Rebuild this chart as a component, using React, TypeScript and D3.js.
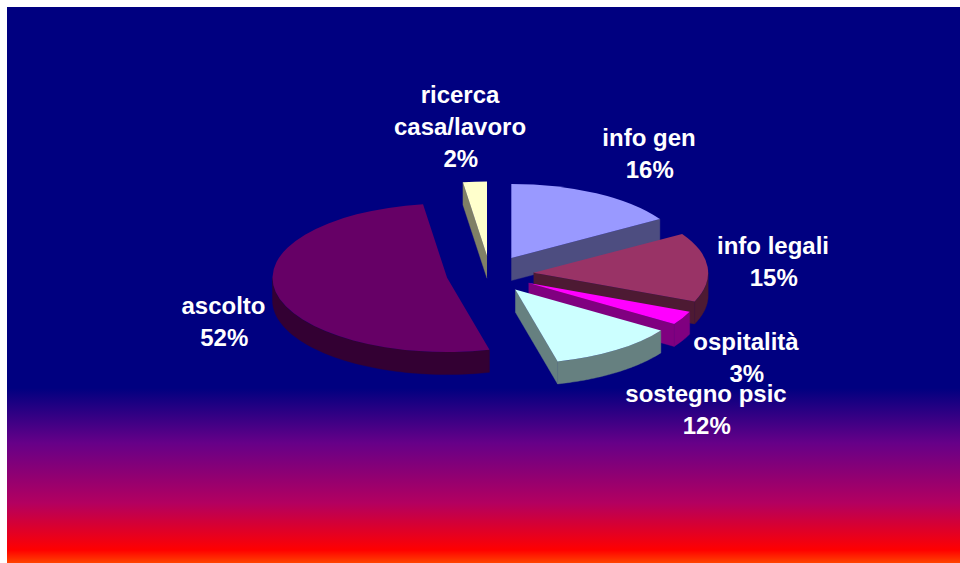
import React from "react";
import * as d3 from "d3";

// Shares of each service, in percent, clockwise from twelve o'clock.
const categories = ["info gen", "info legali", "ospitalità", "sostegno psic", "ascolto", "ricerca casa/lavoro"];
const shares = [16.2, 15.1, 3.0, 11.8, 51.7, 2.2];
const topColors = ["#9999FF", "#993366", "#FF00FF", "#CCFFFF", "#660066", "#FFFFCC"];
const wallColors = ["#4D4D80", "#4D1A33", "#800080", "#668080", "#330033", "#808066"];
const nameLines = [["info gen"], ["info legali"], ["ospitalità"], ["sostegno psic"], ["ascolto"], ["ricerca", "casa/lavoro"]];
const labelAnchors: [number, number][] = [[649, 146], [773, 254], [746, 350], [706, 402], [223.5, 314], [460, 103]];

// Tilted pie geometry.
const WIDTH = 960;
const HEIGHT = 563;
const CX = 490;
const CY = 274.3;
const RX = 174.6;
const RY = 74.2;
const DEPTH = 22.5;
const EXPLODE = 43.7;
const LINE_HEIGHT = 32;
const PERCENT_NUDGE = 0.8;
const FRONT_FROM = Math.PI / 2;
const FRONT_TO = Math.PI * 1.5;
// Painter's order: rear slice first so nearer slices overlap it.
const paintOrder = [5, 0, 4, 1, 2, 3];

const percent = d3.format(".0f");
const arcs = d3.pie<number>().sort(null).value((d) => d)(shares);

export default function App() {
  const faceArc = d3.arc<d3.PieArcDatum<number>>().innerRadius(0).outerRadius(RX);
  const outline = d3.line<[number, number]>();

  const slices = paintOrder.map((i) => {
    const { startAngle: a0, endAngle: a1 } = arcs[i];
    const mid = (a0 + a1) / 2;
    const vx = CX + EXPLODE * Math.sin(mid);
    const vy = CY - (EXPLODE * RY * Math.cos(mid)) / RX;
    const rim = (t: number, drop = 0): [number, number] => [vx + RX * Math.sin(t), vy - RY * Math.cos(t) + drop];
    const hub = (drop = 0): [number, number] => [vx, vy + drop];

    const walls: string[] = [];
    // Radial cut at the clockwise end of the slice, facing the viewer in the lower half.
    if (Math.sin(a1) > 1e-6) walls.push(outline([hub(), rim(a1), rim(a1, DEPTH), hub(DEPTH)])!);
    // Radial cut at the start of the slice.
    if (Math.sin(a0) < -1e-6) walls.push(outline([hub(), rim(a0), rim(a0, DEPTH), hub(DEPTH)])!);
    // Curved outer wall, limited to the front half of the ellipse.
    const from = Math.max(a0, FRONT_FROM);
    const to = Math.min(a1, FRONT_TO);
    if (to > from) {
      const steps = d3.range(0, 61).map((k) => from + ((to - from) * k) / 60);
      walls.push(outline([...steps.map((t) => rim(t)), ...steps.reverse().map((t) => rim(t, DEPTH))])! + "Z");
    }
    return { i, vx, vy, walls };
  });

  return (
    <svg
      width={WIDTH}
      height={HEIGHT}
      viewBox={`0 0 ${WIDTH} ${HEIGHT}`}
      style={{ position: "absolute", left: 0, top: 0, display: "block" }}
    >
      <defs>
        <linearGradient id="backdrop" gradientUnits="userSpaceOnUse" x1="0" y1="7" x2="0" y2={HEIGHT}>
          <stop offset={(388 - 7) / 556} stopColor="#000080" />
          <stop offset={(443 - 7) / 556} stopColor="#660088" />
          <stop offset={(503 - 7) / 556} stopColor="#B30060" />
          <stop offset={(550 - 7) / 556} stopColor="#FF0000" />
          <stop offset={1} stopColor="#FF4400" />
        </linearGradient>
      </defs>
      <rect width={WIDTH} height={HEIGHT} fill="#FFFFFF" />
      <rect x={7} y={7} width={WIDTH - 7} height={HEIGHT - 7} fill="url(#backdrop)" />

      {slices.map(({ i, vx, vy, walls }) => (
        <g key={categories[i]}>
          {walls.map((d, k) => (
            <path key={k} d={d} fill={wallColors[i]} stroke={wallColors[i]} strokeWidth={0.4} />
          ))}
          <path
            d={faceArc(arcs[i])!}
            transform={`translate(${vx},${vy}) scale(1,${RY / RX})`}
            fill={topColors[i]}
          />
        </g>
      ))}

      {nameLines.map((lines, i) => (
        <text
          key={categories[i]}
          textAnchor="middle"
          fontFamily="'Liberation Sans', Arial, sans-serif"
          fontWeight="bold"
          fontSize={24}
          fill="#FFFFFF"
        >
          {lines.map((line, k) => (
            <tspan key={line} x={labelAnchors[i][0]} y={labelAnchors[i][1] + k * LINE_HEIGHT}>
              {line}
            </tspan>
          ))}
          <tspan x={labelAnchors[i][0] + PERCENT_NUDGE} y={labelAnchors[i][1] + lines.length * LINE_HEIGHT}>
            {`${percent(shares[i])}%`}
          </tspan>
        </text>
      ))}
    </svg>
  );
}
